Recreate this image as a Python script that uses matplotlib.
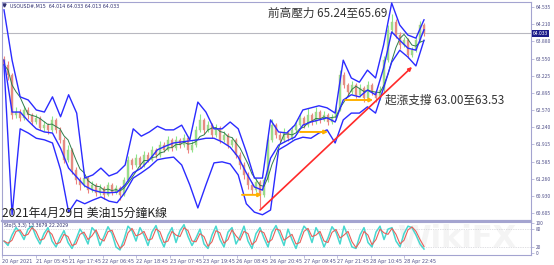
import numpy as np
import pandas as pd
import matplotlib
matplotlib.use('Agg')
import matplotlib.pyplot as plt

plt.rcParams['font.family'] = ['Noto Sans CJK TC', 'DejaVu Sans']

# 美油 15分鐘K線 (USOUSD M15), 近似值
first_open = 63.55
closes = [
    63.43, 63.24, 62.47, 62.53, 62.42, 62.57, 62.47, 62.34, 62.42, 62.23,
    62.28, 62.19, 62.38, 62.19, 62.00, 61.62, 61.81, 61.42, 61.23, 61.14,
    61.27, 61.04, 61.14, 60.99, 61.08, 60.95, 61.14, 61.00, 61.08, 60.95,
    61.23, 61.62, 61.52, 61.65, 61.52, 61.71, 61.62, 61.81, 61.71, 61.90,
    61.81, 62.00, 61.84, 62.00, 61.90, 62.04, 61.81, 61.90, 62.19, 62.38,
    62.19, 62.28, 62.09, 62.23, 62.00, 62.09, 61.90, 62.00, 61.71, 61.52,
    61.33, 61.14, 61.04, 61.20, 60.95, 61.23, 62.00, 62.28, 62.09, 62.00,
    62.15, 62.04, 62.19, 62.28, 62.42, 62.28, 62.47, 62.34, 62.53, 62.38,
    62.47, 62.34, 62.42, 62.57, 63.24, 63.05, 62.91, 63.05, 62.86, 62.99,
    62.80, 63.05, 62.91, 62.80, 62.95, 63.52, 64.10, 64.25, 64.00, 63.81,
    63.90, 63.62, 63.71, 63.90, 64.19, 64.033,
]
highs = [
    63.60, 63.50, 63.28, 62.62, 62.58, 62.65, 62.62, 62.52, 62.50, 62.46,
    62.36, 62.33, 62.45, 62.42, 62.25, 62.05, 61.90, 61.85, 61.48, 61.30,
    61.35, 61.31, 61.22, 61.18, 61.15, 61.12, 61.20, 61.18, 61.14, 61.11,
    61.30, 61.70, 61.66, 61.72, 61.69, 61.78, 61.76, 61.88, 61.85, 61.97,
    61.95, 62.08, 62.04, 62.07, 62.04, 62.12, 62.08, 61.97, 62.26, 62.50,
    62.42, 62.35, 62.32, 62.30, 62.27, 62.16, 62.13, 62.06, 62.04, 61.76,
    61.57, 61.38, 61.20, 61.27, 61.24, 61.30, 62.08, 62.40, 62.33, 62.14,
    62.22, 62.19, 62.26, 62.36, 62.50, 62.46, 62.60, 62.52, 62.62, 62.57,
    62.55, 62.51, 62.50, 62.66, 63.33, 63.30, 63.09, 63.12, 63.09, 63.06,
    63.03, 63.12, 63.09, 62.96, 63.02, 63.60, 64.20, 64.40, 64.30, 64.05,
    63.97, 63.94, 63.78, 63.97, 64.26, 64.23,
]
lows = [
    63.38, 63.15, 62.40, 62.42, 62.35, 62.38, 62.40, 62.28, 62.30, 62.18,
    62.17, 62.12, 62.15, 62.13, 61.93, 61.55, 61.58, 61.35, 61.15, 61.05,
    61.10, 60.98, 61.00, 60.92, 60.95, 60.88, 60.92, 60.95, 60.96, 60.86,
    60.92, 61.20, 61.45, 61.48, 61.46, 61.49, 61.57, 61.59, 61.66, 61.68,
    61.76, 61.78, 61.79, 61.81, 61.85, 61.87, 61.74, 61.77, 61.87, 62.15,
    62.12, 62.15, 62.03, 62.05, 61.94, 61.96, 61.84, 61.86, 61.65, 61.45,
    61.26, 61.07, 60.96, 61.00, 60.70, 60.90, 61.20, 61.95, 62.03, 61.94,
    61.96, 61.98, 62.00, 62.15, 62.24, 62.22, 62.25, 62.28, 62.30, 62.32,
    62.35, 62.28, 62.30, 62.38, 62.55, 62.98, 62.84, 62.87, 62.79, 62.82,
    62.73, 62.77, 62.85, 62.72, 62.76, 62.92, 63.48, 64.05, 63.94, 63.74,
    63.77, 63.56, 63.58, 63.67, 63.86, 63.98,
]

# 布林通道 (每兩根K線讀一次)
upper_band = [
    64.48, 63.52, 62.82, 62.76, 62.57, 62.53, 62.82, 62.44, 62.86, 62.51,
    61.27, 61.33, 61.46, 61.31, 61.37, 61.52, 62.21, 62.07, 62.15, 62.26,
    62.19, 62.19, 62.28, 62.00, 62.72, 62.53, 62.21, 62.21, 62.34, 62.21,
    61.77, 61.27, 61.27, 62.38, 62.15, 62.13, 62.28, 62.57, 62.61, 62.65,
    62.61, 62.51, 63.52, 63.18, 63.10, 63.33, 63.18, 63.81, 64.61, 64.19,
    64.00, 63.94, 64.29,
]
mid_band = [
    63.52, 62.53, 62.53, 62.36, 62.21, 62.15, 62.13, 61.84, 61.46, 61.29,
    61.12, 61.04, 61.00, 60.99, 61.00, 61.14, 61.37, 61.46, 61.62, 61.81,
    61.88, 61.94, 61.96, 61.98, 62.00, 62.03, 62.03, 61.96, 61.86, 61.67,
    61.37, 61.10, 61.04, 61.65, 61.90, 61.98, 62.05, 62.28, 62.34, 62.38,
    62.42, 62.34, 62.76, 62.86, 62.82, 62.95, 62.86, 63.37, 64.06, 63.90,
    63.75, 63.71, 64.10,
]
lower_band = [
    63.43, 60.57, 62.21, 62.13, 62.03, 62.00, 61.94, 61.43, 60.62, 60.85,
    60.78, 60.85, 60.91, 60.83, 60.80, 61.00, 61.27, 61.37, 61.48, 61.62,
    61.65, 61.67, 61.52, 61.14, 60.70, 61.14, 61.56, 61.58, 61.54, 61.33,
    60.78, 60.62, 60.57, 60.66, 61.81, 61.90, 62.00, 62.05, 62.03, 62.13,
    62.19, 61.94, 62.38, 62.51, 62.51, 62.63, 62.51, 62.99, 63.48, 63.71,
    63.58, 63.41, 63.90,
]

# Stochastic(5,3,3) 主線
stoch_k = [
    40, 25, 60, 85, 70, 45, 80, 90, 55, 30,
    65, 85, 40, 20, 50, 75, 35, 15, 45, 80,
    60, 30, 85, 70, 25, 55, 88, 65, 20, 10,
    45, 90, 75, 40, 85, 60, 25, 70, 92, 50,
    20, 60, 85, 35, 75, 95, 55, 25, 50, 80,
    30, 15, 60, 90, 45, 20, 70, 85, 30, 55,
    90, 40, 15, 65, 85, 50, 20, 70, 92, 60,
    25, 80, 45, 15, 55, 90, 75, 35, 85, 60,
    20, 50, 88, 70, 30, 90, 55, 20, 15, 60,
    85, 35, 20, 70, 90, 45, 80, 85, 40, 20,
    65, 90, 85, 60, 30, 13,
]

price_ticks = [64.535, 64.210, 63.880, 63.550, 63.225, 62.895, 62.570,
               62.240, 61.915, 61.585, 61.260, 60.930, 60.605]
time_labels = ['20 Apr 2021', '21 Apr 05:45', '21 Apr 17:45', '22 Apr 06:45',
               '22 Apr 18:45', '23 Apr 07:45', '23 Apr 19:45', '26 Apr 08:45',
               '26 Apr 20:45', '27 Apr 09:45', '27 Apr 21:45', '28 Apr 10:45',
               '28 Apr 22:45']
last_price = 64.033

# 畫線工具 (K線序號, 價格)
trend_line = [(64, 60.66), (102, 63.39)]
orange_marks = [((59.5, 60.95), (64.5, 60.95)),
                ((74.0, 62.15), (81.0, 62.15)),
                ((85.3, 62.76), (92.3, 62.76))]

W, H = 554, 265
frame = '#a4a4d0'
axis_txt = '#50508a'

fig = plt.figure(figsize=(W / 100, H / 100), dpi=100)
ax = fig.add_axes([2 / W, 44 / H, 529 / W, 219 / H])
ax2 = fig.add_axes([2 / W, 10 / H, 529 / W, 33 / H])

n = len(closes)
x = np.arange(n)
opens = [first_open] + closes[:-1]
up = [c >= o for o, c in zip(opens, closes)]
cols = ['#8ae88a' if u else '#f08080' for u in up]

# K線
ax.vlines(x, lows, highs, colors=cols, linewidth=0.8, zorder=2)
ax.bar(x, np.array(closes) - np.array(opens), bottom=opens, width=0.6,
       color=cols, edgecolor='#c8b48a', linewidth=0.3, zorder=3)

# 短均線
ma = pd.Series(closes).rolling(5, min_periods=1).mean()
ax.plot(x, ma, color='#2f7d4a', lw=0.7, zorder=4)

# 布林通道
bx = np.linspace(0, n - 1, len(upper_band))
for band in (upper_band, mid_band, lower_band):
    ax.plot(bx, band, color='#2b2bff', lw=1.0, zorder=5)

# 現價線
ax.axhline(last_price, color='#b8b8c0', lw=0.8, zorder=1)

# 趨勢線與標記
(tx0, ty0), (tx1, ty1) = trend_line
ax.annotate('', xy=(tx1, ty1), xytext=(tx0, ty0),
            arrowprops=dict(arrowstyle='-|>', color='#ff2a2a', lw=1.2,
                            mutation_scale=5, shrinkA=0, shrinkB=0), zorder=6)
for (ox0, oy0), (ox1, oy1) in orange_marks:
    ax.annotate('', xy=(ox1, oy1), xytext=(ox0, oy0),
                arrowprops=dict(arrowstyle='-|>', color='#ffb000', lw=1.4,
                                mutation_scale=5, shrinkA=0, shrinkB=0), zorder=6)

ax.set_xlim(-0.5, 131.75)
ax.set_ylim(60.451, 64.63)
ax.yaxis.tick_right()
ax.set_yticks(price_ticks)
ax.set_yticklabels([f'{p:.3f}' for p in price_ticks], fontsize=3.6, color=axis_txt)
ax.tick_params(axis='y', length=2, width=0.5, color=frame, pad=1.5)
ax.set_xticks([])
for s in ax.spines.values():
    s.set_color(frame)
    s.set_linewidth(0.8)
ax.spines['bottom'].set_linewidth(1.6)

# 現價標籤
ax.text(1.003, last_price, f'{last_price:.3f}', transform=ax.get_yaxis_transform(),
        fontsize=3.6, color='white', va='center', ha='left',
        bbox=dict(boxstyle='square,pad=0.15', fc='#1c1c8a', ec='none'))

# 圖內文字
ax.text(0.016, 0.993, 'USOUSD#,M15  64.014 64.033 64.013 64.033', transform=ax.transAxes,
        fontsize=3.4, color='#303070', va='top', ha='left', family=['DejaVu Sans'])
ax.plot([0.004], [0.985], marker='v', ms=2.2, color='#303070', transform=ax.transAxes,
        clip_on=False)
fig.text(268 / W, 1 - 13 / H, '前高壓力 65.24至65.69', fontsize=8.4, color='#333333',
         va='center', ha='left')
fig.text(385 / W, 1 - 100 / H, '起漲支撐 63.00至63.53', fontsize=8.4, color='#333333',
         va='center', ha='left')
fig.text(2 / W, 1 - 213 / H, '2021年4月29日 美油15分鐘K線', fontsize=8.6, color='#222222',
         va='center', ha='left')

# 副圖: Stochastic
k = pd.Series(stoch_k, dtype=float)
d = k.rolling(2, min_periods=1).mean()
sx = np.linspace(0, n - 1, len(stoch_k))
ax2.text(0.86, 0.5, 'WikiFX', transform=ax2.transAxes, fontsize=22, fontweight='bold',
         color='#f4f4f4', ha='center', va='center', zorder=0, clip_on=False,
         family=['DejaVu Sans'])
ax2.plot(sx, k, color='#48d8d0', lw=1.1, zorder=2)
ax2.plot(sx, d, color='#e8605a', lw=0.8, zorder=3)
for lvl in (80, 20):
    ax2.axhline(lvl, color='#c0c0c8', lw=0.5, ls=(0, (1, 1.5)), zorder=1)
ax2.set_xlim(-0.5, 131.75)
ax2.set_ylim(-7, 104)
ax2.yaxis.tick_right()
ax2.set_yticks([100, 80, 20, 0])
ax2.set_yticklabels(['100', '80', '20', '0'], fontsize=3.4, color=axis_txt)
ax2.tick_params(axis='y', length=2, width=0.5, color=frame, pad=1.5)
tick_pos = np.arange(len(time_labels)) * 8.375 - 0.5
ax2.set_xticks(tick_pos)
ax2.set_xticklabels(time_labels, fontsize=3.5, color=axis_txt, ha='left',
                    family=['DejaVu Sans'])
ax2.tick_params(axis='x', length=2, width=0.5, color=frame, pad=1)
for s in ax2.spines.values():
    s.set_color(frame)
    s.set_linewidth(0.8)
ax2.text(0.003, 0.97, 'Sto(5,3,3) 13.3679 22.2029', transform=ax2.transAxes,
         fontsize=3.3, color='#303070', va='top', ha='left', family=['DejaVu Sans'])

fig.savefig('out.png', dpi=100, facecolor='white')
